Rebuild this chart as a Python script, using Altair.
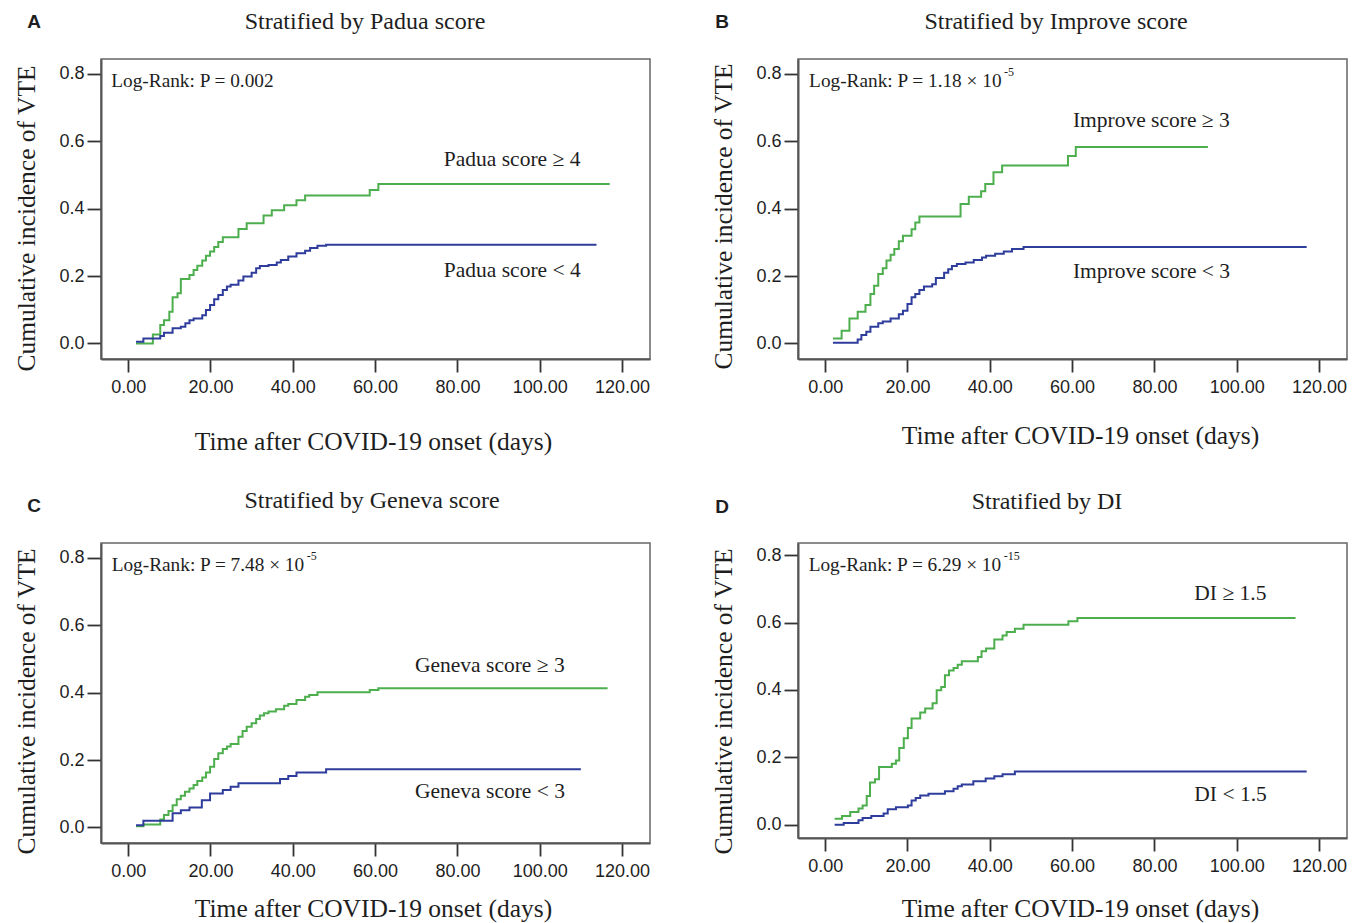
import altair as alt
import pandas as pd

GREEN = "#4dae4d"
BLUE = "#2e3d9c"
TXT = "#1e1e1e"

# ---------------- data ----------------
# A: Padua score
a_hi_day = [1.9, 6.0, 7.8, 8.7, 10.0, 10.8, 12.0, 12.8, 14.9, 15.9, 16.8, 18.0, 18.9, 19.9, 20.9, 21.9, 23.0, 26.8, 28.8, 32.9, 34.9, 37.9, 40.9, 43.0, 58.7, 60.8, 117.0]
a_hi_val = [0.000, 0.027, 0.055, 0.069, 0.094, 0.137, 0.149, 0.191, 0.203, 0.218, 0.231, 0.246, 0.260, 0.273, 0.286, 0.301, 0.315, 0.340, 0.357, 0.380, 0.395, 0.410, 0.425, 0.439, 0.455, 0.473, 0.473]
a_lo_day = [1.9, 3.7, 7.8, 8.7, 10.8, 12.8, 13.9, 14.9, 15.9, 18.0, 18.9, 19.9, 20.9, 21.9, 23.0, 24.0, 24.9, 26.8, 28.0, 30.0, 31.1, 32.0, 34.1, 36.1, 37.1, 38.9, 40.9, 43.0, 44.2, 46.0, 48.1, 113.8]
a_lo_val = [0.005, 0.015, 0.022, 0.032, 0.045, 0.050, 0.060, 0.069, 0.074, 0.084, 0.099, 0.114, 0.131, 0.144, 0.159, 0.169, 0.174, 0.187, 0.199, 0.210, 0.223, 0.230, 0.233, 0.240, 0.248, 0.258, 0.268, 0.275, 0.283, 0.290, 0.293, 0.293]

# B: Improve score
b_hi_day = [1.9, 4.0, 5.9, 7.9, 9.8, 11.0, 11.9, 12.9, 14.0, 14.9, 15.9, 16.8, 17.9, 18.9, 21.0, 21.9, 22.9, 32.9, 34.9, 37.9, 38.9, 40.9, 43.0, 59.0, 60.9, 93.0]
b_hi_val = [0.015, 0.038, 0.074, 0.094, 0.114, 0.147, 0.171, 0.206, 0.223, 0.246, 0.263, 0.280, 0.303, 0.320, 0.339, 0.359, 0.377, 0.414, 0.435, 0.452, 0.473, 0.508, 0.528, 0.556, 0.583, 0.583]
b_lo_day = [1.9, 7.9, 8.8, 10.0, 11.0, 12.9, 14.0, 15.9, 17.9, 18.9, 20.0, 21.0, 21.9, 22.9, 24.0, 26.0, 26.9, 28.9, 29.9, 30.8, 32.0, 34.1, 36.1, 38.1, 39.1, 41.3, 43.4, 45.4, 48.2, 117.0]
b_lo_val = [0.002, 0.012, 0.025, 0.035, 0.050, 0.060, 0.065, 0.074, 0.087, 0.097, 0.117, 0.137, 0.147, 0.159, 0.169, 0.176, 0.194, 0.210, 0.220, 0.230, 0.236, 0.240, 0.248, 0.255, 0.260, 0.266, 0.273, 0.280, 0.286, 0.286]

# C: Geneva score
c_hi_day = [1.9, 3.7, 7.8, 8.7, 9.8, 10.8, 11.8, 12.8, 13.8, 14.9, 15.9, 16.8, 18.0, 18.9, 19.9, 20.9, 21.9, 23.0, 24.0, 24.9, 26.8, 27.8, 28.8, 30.0, 31.1, 32.0, 33.0, 34.1, 35.9, 37.9, 38.9, 40.9, 43.0, 44.0, 46.0, 58.7, 60.8, 116.5]
c_hi_val = [0.004, 0.009, 0.024, 0.037, 0.049, 0.066, 0.084, 0.094, 0.106, 0.116, 0.126, 0.138, 0.148, 0.163, 0.180, 0.203, 0.220, 0.233, 0.240, 0.248, 0.269, 0.286, 0.299, 0.309, 0.322, 0.332, 0.339, 0.344, 0.351, 0.361, 0.366, 0.378, 0.388, 0.393, 0.401, 0.408, 0.413, 0.413]
c_lo_day = [1.9, 3.7, 10.8, 12.8, 14.9, 17.9, 19.9, 23.0, 24.9, 26.8, 36.9, 38.9, 40.9, 48.1, 110.0]
c_lo_val = [0.007, 0.020, 0.042, 0.051, 0.059, 0.081, 0.101, 0.111, 0.121, 0.131, 0.144, 0.153, 0.163, 0.173, 0.173]

# D: DI
d_hi_day = [2.3, 4.1, 6.1, 8.1, 9.1, 10.1, 10.9, 12.1, 13.1, 16.2, 17.2, 18.0, 19.1, 20.1, 21.0, 23.1, 24.3, 26.1, 27.1, 28.2, 29.1, 30.1, 31.2, 32.2, 33.2, 37.1, 38.0, 39.1, 41.1, 43.1, 44.1, 46.1, 48.2, 59.1, 61.3, 114.3]
d_hi_val = [0.018, 0.026, 0.038, 0.048, 0.057, 0.085, 0.125, 0.135, 0.171, 0.181, 0.191, 0.228, 0.257, 0.287, 0.315, 0.333, 0.345, 0.361, 0.399, 0.409, 0.444, 0.458, 0.465, 0.475, 0.485, 0.498, 0.515, 0.523, 0.550, 0.562, 0.572, 0.582, 0.594, 0.604, 0.614, 0.614]
d_lo_day = [2.3, 4.5, 8.1, 9.1, 11.2, 14.2, 15.2, 17.2, 20.1, 21.0, 22.0, 23.1, 25.1, 29.1, 31.2, 32.2, 33.2, 36.0, 39.0, 41.1, 43.1, 46.1, 117.0]
d_lo_val = [0.000, 0.005, 0.013, 0.020, 0.026, 0.033, 0.046, 0.052, 0.057, 0.072, 0.079, 0.087, 0.092, 0.099, 0.107, 0.114, 0.119, 0.129, 0.137, 0.144, 0.150, 0.158, 0.158]

letters = ["A", "B", "C", "D"]
titles = ["Stratified by Padua score", "Stratified by Improve score",
          "Stratified by Geneva score", "Stratified by DI"]
hi_labels = ["Padua score \u2265 4", "Improve score \u2265 3", "Geneva score \u2265 3", "DI \u2265 1.5"]
lo_labels = ["Padua score < 4", "Improve score < 3", "Geneva score < 3", "DI < 1.5"]
p_main = ["Log-Rank: P = 0.002", "Log-Rank: P = 1.18 \u00d7 10",
          "Log-Rank: P = 7.48 \u00d7 10", "Log-Rank: P = 6.29 \u00d7 10"]
p_sup = ["", "-5", "-5", "-15"]

X_TICKS = [0, 20, 40, 60, 80, 100, 120]
Y_TICKS = [0.0, 0.2, 0.4, 0.6, 0.8]
X_TITLE = "Time after COVID-19 onset (days)"
Y_TITLE = "Cumulative incidence of VTE"

# ---------------- layout / annotation placement ----------------
X_DOMAIN = [-6.6, 126.8]
LAYOUT = [
    dict(h=300, ydom=[-0.046, 0.844], xty=90, xtx=272, yty=159, tx=264, ty=-37, lx=-67, ly=-37,
         pl=(-4.1, 0.780), hl=(76.7, 0.545), ll=(76.7, 0.214), anchor=True),
    dict(h=300, ydom=[-0.046, 0.844], xty=84, xtx=282, yty=157, tx=258, ty=-37, lx=-76, ly=-37,
         pl=(-3.9, 0.780), hl=(60.2, 0.661), ll=(60.2, 0.211), anchor=False),
    dict(h=300, ydom=[-0.046, 0.844], xty=73.5, xtx=272, yty=158, tx=271, ty=-42, lx=-67, ly=-37,
         pl=(-4.0, 0.779), hl=(69.7, 0.480), ll=(69.7, 0.104), anchor=False),
    dict(h=295, ydom=[-0.0395, 0.8365], xty=78.5, xtx=282, yty=158, tx=249, ty=-41, lx=-76, ly=-36,
         pl=(-4.0, 0.772), hl=(89.7, 0.686), ll=(89.7, 0.088), anchor=False),
]
SERIES = [(a_hi_day, a_hi_val, a_lo_day, a_lo_val),
          (b_hi_day, b_hi_val, b_lo_day, b_lo_val),
          (c_hi_day, c_hi_val, c_lo_day, c_lo_val),
          (d_hi_day, d_hi_val, d_lo_day, d_lo_val)]


def make_panel(i):
    hd, hv, ld, lv = SERIES[i]
    L = LAYOUT[i]
    df = pd.DataFrame({
        "day": list(hd) + list(ld),
        "cum": list(hv) + list(lv),
        "grp": ["high"] * len(hd) + ["low"] * len(ld),
    })
    xs = alt.Scale(domain=X_DOMAIN, nice=False, zero=False)
    ys = alt.Scale(domain=L["ydom"], nice=False, zero=False)
    xax = alt.Axis(
        values=X_TICKS, format=".2f", title=X_TITLE, tickSize=13, labelPadding=6,
        titleX=L["xtx"], titleY=L["xty"], titleAlign="center",
        titleBaseline="alphabetic", titleAngle=0, labelFlush=False)
    yax = alt.Axis(
        values=Y_TICKS, format=".1f", title=Y_TITLE, tickSize=14, labelPadding=3,
        titleX=-67, titleY=L["yty"], titleAngle=270, titleAlign="center",
        titleBaseline="alphabetic")
    X = alt.X("day:Q", scale=xs, axis=xax)
    Y = alt.Y("cum:Q", scale=ys, axis=yax)

    lines = alt.Chart(df).mark_line(interpolate="step-after", strokeWidth=2).encode(
        x=X, y=Y,
        color=alt.Color("grp:N", scale=alt.Scale(domain=["high", "low"], range=[GREEN, BLUE]),
                        legend=None),
    )
    grp_df = pd.DataFrame({"day": [L["hl"][0], L["ll"][0]], "cum": [L["hl"][1], L["ll"][1]],
                           "txt": [hi_labels[i], lo_labels[i]]})
    grp_txt = alt.Chart(grp_df).mark_text(
        align="left", baseline="middle", font="Liberation Serif", fontSize=21.5, color=TXT
    ).encode(x=X, y=Y, text="txt:N")

    p_df = pd.DataFrame({"day": [L["pl"][0]], "cum": [L["pl"][1]],
                         "txt": [p_main[i]], "sup": [p_sup[i]]})
    p_txt = alt.Chart(p_df).mark_text(
        align="left", baseline="middle", font="Liberation Serif", fontSize=19.3, color=TXT
    ).encode(x=X, y=Y, text="txt:N")
    s_txt = alt.Chart(p_df).mark_text(
        align="left", baseline="middle", font="Liberation Serif", fontSize=12, color=TXT,
        dx=195, dy=-9
    ).encode(x=X, y=Y, text="sup:N")

    one = pd.DataFrame({"k": [0]})
    ttl = alt.Chart(one).mark_text(
        text=titles[i], font="Liberation Serif", fontSize=24, align="center",
        baseline="middle", color=TXT
    ).encode(x=alt.value(L["tx"]), y=alt.value(L["ty"]))
    let = alt.Chart(one).mark_text(
        text=letters[i], font="Liberation Sans Narrow, Liberation Sans", fontSize=19,
        fontWeight="bold", align="center", baseline="middle", color=TXT
    ).encode(x=alt.value(L["lx"]), y=alt.value(L["ly"]))
    layers = [lines, grp_txt, p_txt, s_txt, ttl, let]
    if L["anchor"]:
        anchor = alt.Chart(one).mark_rule(opacity=0).encode(
            x=alt.value(-92), x2=alt.value(-91), y=alt.value(-50), y2=alt.value(-50))
        layers.append(anchor)
    return alt.layer(*layers).properties(width=549, height=L["h"])


panels = [make_panel(i) for i in range(4)]

chart = alt.concat(
    *panels, columns=2, spacing={"row": 184, "column": 148}, bounds="flush"
).properties(
    padding=0, background="white"
).configure_view(
    stroke="#666666", strokeWidth=1.5
).configure_axis(
    grid=False, domainColor="#555555", domainWidth=2, tickColor="#333333", tickWidth=1.8,
    labelFont="Liberation Sans", labelFontSize=18, labelColor=TXT,
    titleFont="Liberation Serif", titleFontSize=25.5, titleFontWeight="normal", titleColor=TXT
)

chart.save("out.html", embed_options={"renderer": "svg", "actions": False})
